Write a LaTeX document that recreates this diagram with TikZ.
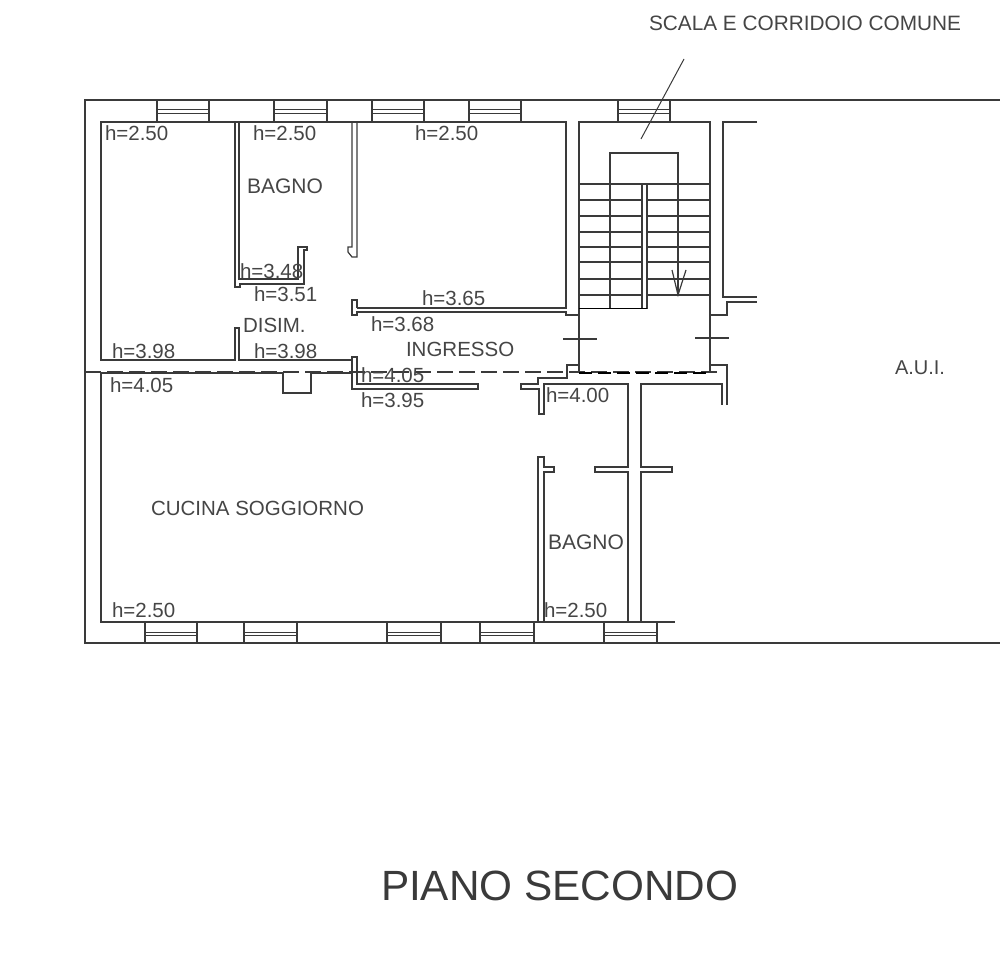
\documentclass[tikz,border=0pt]{standalone}
\usepackage{fontspec}
\setmainfont{Liberation Sans}
\definecolor{ink}{HTML}{3A3A3A}
\definecolor{txt}{HTML}{454545}
\tikzset{
  wall/.style={draw=ink,line width=1.2pt,line cap=butt,line join=miter},
  thinwall/.style={draw=ink,line width=1pt},
  heavy/.style={draw=black,line width=1.6pt},
  dashline/.style={draw=ink,line width=1.1pt,dash pattern=on 16pt off 6pt},
  lbl/.style={anchor=base west,inner sep=0pt,outer sep=0pt,text=txt,font=\fontsize{20.5}{22}\selectfont},
  room/.style={lbl,font=\fontsize{21}{22}\selectfont},
  title/.style={lbl,text=ink,font=\fontsize{42.3}{44}\selectfont}
}
\begin{document}
\begin{tikzpicture}[x=1pt,y=-1pt]
\useasboundingbox (0,0) rectangle (1000,968);
% outer shell
\draw[wall] (1000,100) -- (85,100) -- (85,643) -- (1000,643);
% top inner line and first rooms
\draw[wall] (236,360) -- (101,360) -- (101,122) -- (566,122) -- (566,308) -- (357,308);
\draw[wall] (101,373) -- (101,622) -- (675,622);
% windows, top
\foreach \a/\b in {157/209,274/327,372/424,469/521,618/670}{
  \draw[wall] (\a,100) -- (\a,122) (\b,100) -- (\b,122);
  \draw[thinwall] (\a,110) -- (\b,110) (\a,113.5) -- (\b,113.5);
}
% windows, bottom
\foreach \a/\b in {145/197,244/297,387/441,480/534,604/657}{
  \draw[wall] (\a,622) -- (\a,643) (\b,622) -- (\b,643);
  \draw[thinwall] (\a,632) -- (\b,632) (\a,635.5) -- (\b,635.5);
}
% bagno walls
\draw[wall] (239,122) -- (239,279) -- (298,279) -- (298,247) -- (307,247) -- (307,250) -- (304,250) -- (304,284) -- (240,284) -- (240,287) -- (235,287) -- (235,122);
\draw[wall] (352,122) -- (352,247) -- (348,247) -- (348,252) -- (352,257) -- (357,257) -- (357,122);
% disimpegno stub
\draw[wall] (235,360) -- (235,328) -- (239,328) -- (239,360) -- (352,360) -- (352,357) -- (357,357) -- (357,384) -- (478,384) -- (478,389) -- (352,389) -- (352,360);
% wall h=3.65
\draw[wall] (357,308) -- (357,300) -- (352,300) -- (352,315) -- (357,315) -- (357,312) -- (566,312) -- (566,315) -- (579,315);
% floor line and chimney
\draw[wall] (101,373) -- (283,373) -- (283,393) -- (311,393) -- (311,373) -- (352,373);
% stair room
\draw[wall] (579,373) -- (579,122) -- (710,122) -- (710,373);
\draw[wall] (610,308) -- (610,153) -- (678,153) -- (678,295);
\foreach \y in {200,216,232,247,262,279,295}{
  \draw[wall] (579,\y) -- (642,\y) (647,\y) -- (710,\y);
}
\draw[wall] (579,184) -- (710,184);
\draw[wall] (642,308) -- (642,184) -- (647,184) -- (647,309);
\draw[heavy] (579,308.5) -- (647,308.5);
\draw[wall] (672,270) -- (678,295) -- (686,270);
\draw[wall] (563,339) -- (597,339) (695,338) -- (729,338);
% right wing
\draw[wall] (757,122) -- (723,122) -- (723,297) -- (757,297);
\draw[wall] (710,315) -- (727,315) -- (727,302) -- (757,302);
% entrance lower walls
\draw[wall] (579,365) -- (567,365) -- (567,378) -- (538,378) -- (538,384) -- (521,384) -- (521,389) -- (539,389) -- (539,414) -- (544,414) -- (544,384) -- (628,384) -- (628,467) -- (595,467) -- (595,472) -- (628,472) -- (628,622);
\draw[wall] (641,622) -- (641,472) -- (672,472) -- (672,467) -- (641,467) -- (641,384) -- (722,384) -- (722,405);
\draw[wall] (710,365) -- (727,365) -- (727,405);
\draw[wall] (538,622) -- (538,457) -- (544,457) -- (544,467) -- (554,467) -- (554,472) -- (544,472) -- (544,622);
% section line
\draw[dashline] (85,372) -- (717,372);
\draw[heavy,dash pattern=on 13pt off 6pt] (579,373) -- (710,373);
% leader
\coordinate (leadA) at (684,59);
\coordinate (leadB) at (641,139);
\draw[draw=ink,line width=1pt] (leadA) -- (leadB);
% labels
\node[lbl,font=\fontsize{20.8}{22}\selectfont] (scala) at (649,31) {SCALA E CORRIDOIO COMUNE};
\node[lbl] (h1) at (105,141) {h=2.50};
\node[lbl] (h2) at (253,141) {h=2.50};
\node[lbl] (h3) at (415,141) {h=2.50};
\node[room] (bagnoA) at (247,194) {BAGNO};
\node[lbl] (h4) at (240,278) {h=3.48};
\node[lbl] (h5) at (254,301) {h=3.51};
\node[lbl] (disim) at (243,332) {DISIM.};
\node[lbl] (h6) at (112,358) {h=3.98};
\node[lbl] (h7) at (254,358) {h=3.98};
\node[lbl] (h8) at (110,392) {h=4.05};
\node[lbl] (h9) at (422,305) {h=3.65};
\node[lbl] (h10) at (371,331) {h=3.68};
\node[lbl] (ingresso) at (406,356) {INGRESSO};
\node[lbl] (h11) at (361,382) {h=4.05};
\node[lbl] (h12) at (361,407) {h=3.95};
\node[lbl] (h13) at (546,402) {h=4.00};
\node[lbl] (cucina) at (151,515) {CUCINA SOGGIORNO};
\node[room] (bagnoB) at (548,549) {BAGNO};
\node[lbl] (h14) at (112,617) {h=2.50};
\node[lbl] (h15) at (544,617) {h=2.50};
\node[lbl,font=\fontsize{20}{22}\selectfont] (aui) at (895,374) {A.U.I.};
\node[title] (piano) at (381,900) {PIANO SECONDO};
\end{tikzpicture}
\end{document}
